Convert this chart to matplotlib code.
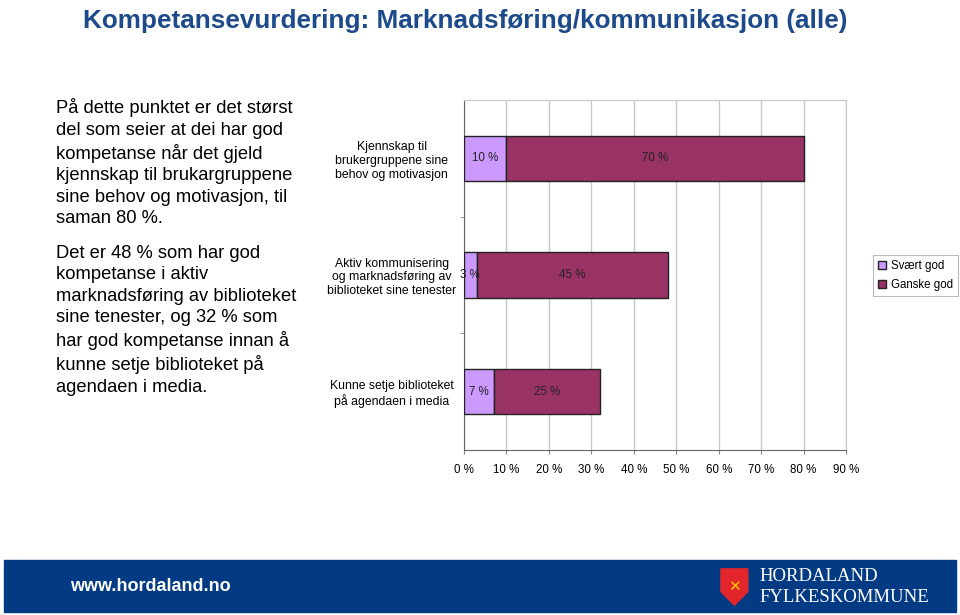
import matplotlib.pyplot as plt
import matplotlib.patches as mpatches
import numpy as np

kategoriar = ["Kjennskap til\nbrukergruppene sine\nbehov og motivasjon",
              "Aktiv kommunisering\nog marknadsføring av\nbiblioteket sine tenester",
              "Kunne setje biblioteket\npå agendaen i media"]
svaert_god = [10, 3, 7]
ganske_god = [70, 45, 25]
xticks = [0, 10, 20, 30, 40, 50, 60, 70, 80, 90]

tekst1 = ("På dette punktet er det størst\ndel som seier at dei har god\n"
          "kompetanse når det gjeld\nkjennskap til brukargruppene\n"
          "sine behov og motivasjon, til\nsaman 80 %.")
tekst2 = ("Det er 48 % som har god\nkompetanse i aktiv\n"
          "marknadsføring av biblioteket\nsine tenester, og 32 % som\n"
          "har god kompetanse innan å\nkunne setje biblioteket på\nagendaen i media.")

plt.rcParams['font.family'] = ['Liberation Sans', 'DejaVu Sans']

fig = plt.figure(figsize=(9.6, 6.15), dpi=100)

fig.text(0.485, 0.985, "Kompetansevurdering: Marknadsføring/kommunikasjon (alle)",
         ha='center', va='top', fontsize=18.8, fontweight='bold', color='#1d4a8a')

fig.text(0.058, 0.84, tekst1, ha='left', va='top', fontsize=13.2, linespacing=1.34)
fig.text(0.058, 0.602, tekst2, ha='left', va='top', fontsize=13.2, linespacing=1.34)

ax = fig.add_axes([0.4833, 0.2683, 0.398, 0.569])
y = np.arange(len(kategoriar))
h = 0.39
ax.barh(y, svaert_god, height=h, color='#cc99ff', edgecolor='#222222', linewidth=1,
        label='Svært god', zorder=3)
ax.barh(y, ganske_god, left=svaert_god, height=h, color='#993366', edgecolor='#222222',
        linewidth=1, label='Ganske god', zorder=3)

for i in range(len(kategoriar)):
    ax.text(svaert_god[i] / 2, y[i], f"{svaert_god[i]} %", ha='center', va='center',
            fontsize=8.3, color='#222222', zorder=4)
    ax.text(svaert_god[i] + ganske_god[i] / 2, y[i], f"{ganske_god[i]} %", ha='center',
            va='center', fontsize=8.3, color='#222222', zorder=4)

ax.set_xlim(0, 90)
ax.set_ylim(len(kategoriar) - 0.5, -0.5)
ax.set_xticks(xticks)
ax.set_xticklabels([f"{v} %" for v in xticks], fontsize=8.3)
ax.set_yticks(y)
ax.set_yticklabels(kategoriar, fontsize=8.8, ha='center')
ax.tick_params(axis='y', length=0, pad=52)
ax.tick_params(axis='x', length=3, color='#888888', pad=7)
ax.set_yticks([0.5, 1.5], minor=True)
ax.tick_params(axis='y', which='minor', length=3, color='#888888')
ax.grid(axis='x', color='#c8c8c8', linewidth=1, zorder=0)
for s in ['top', 'right']:
    ax.spines[s].set_color('#c8c8c8')
for s in ['left', 'bottom']:
    ax.spines[s].set_color('#666666')

leg = fig.legend(loc='upper left', bbox_to_anchor=(0.909, 0.586), fontsize=8.3,
                 frameon=True, fancybox=False, edgecolor='#aaaaaa', handlelength=0.7,
                 handleheight=0.7, handletextpad=0.4, borderpad=0.45, labelspacing=0.6,
                 borderaxespad=0)
leg.get_frame().set_linewidth(0.8)

# footer
fig.patches.append(mpatches.Rectangle((0.004, 0.005), 0.992, 0.085,
                                      transform=fig.transFigure, color='#033a84'))
fig.text(0.073, 0.047, "www.hordaland.no", ha='left', va='center', fontsize=13,
         fontweight='bold', color='white', family=['Liberation Sans Narrow', 'Liberation Sans'])
skjold = [(0.751, 0.075), (0.779, 0.075), (0.779, 0.038), (0.765, 0.016), (0.751, 0.038)]
fig.patches.append(mpatches.Polygon(skjold, closed=True, transform=fig.transFigure,
                                    color='#e3262b'))
fig.text(0.765, 0.047, "✕", ha='center', va='center', fontsize=11, color='#f5c400',
         family=['DejaVu Sans'])
fig.text(0.791, 0.062, "HORDALAND", ha='left', va='center', fontsize=13.5,
         color='white', family=['Liberation Serif'])
fig.text(0.791, 0.029, "FYLKESKOMMUNE", ha='left', va='center', fontsize=13.5,
         color='white', family=['Liberation Serif'])

fig.savefig('out.png', dpi=100)
